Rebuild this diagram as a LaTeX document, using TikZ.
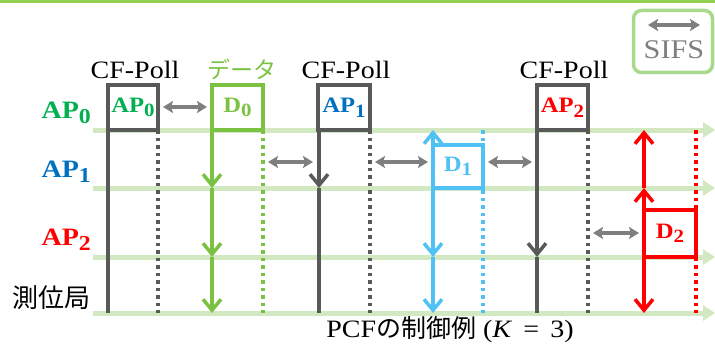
\documentclass[tikz,border=0pt]{standalone}
\usepackage{fontspec}
\setmainfont[FakeStretch=1.12]{Liberation Serif}
\newfontfamily\jp{Noto Sans CJK JP}
\usetikzlibrary{arrows.meta,calc}
\definecolor{apgreen}{HTML}{00B050}
\definecolor{apblue}{HTML}{0070C0}
\definecolor{apred}{HTML}{FF0000}
\definecolor{dgreen}{HTML}{7CC242}
\definecolor{dblue}{HTML}{4FC1F5}
\definecolor{bgray}{HTML}{595959}
\definecolor{sgray}{HTML}{7F7F7F}
\definecolor{tlgreen}{HTML}{D2E8C1}
\definecolor{topgreen}{HTML}{92D050}
\definecolor{leggreen}{HTML}{A9D98C}
\newcommand\mysub[1]{\raisebox{-0.45ex}{\scalebox{0.85}{#1}}}
\begin{document}
\begin{tikzpicture}[x=1pt,y=-1pt,
  tl/.style={line width=5pt, color=tlgreen, -{Triangle[length=12pt,width=15pt]}},
  boxnode/.style={draw, line width=4pt, minimum width=50pt, minimum height=45pt, inner sep=0pt, fill=white, font=\fontsize{22}{24}\selectfont\bfseries},
  vline/.style={line width=3.5pt},
  dline/.style={line width=3.5pt, dash pattern=on 3.5pt off 4pt},
  vtip/.style={line width=3.5pt, -{Straight Barb[length=11pt,width=18pt]}},
  sifs/.style={line width=3.5pt, color=sgray, {Stealth[length=10pt,width=12pt,inset=2pt]}-{Stealth[length=10pt,width=12pt,inset=2pt]}},
  lbl/.style={font=\fontsize{25}{28}\selectfont\bfseries, anchor=east, inner sep=0pt},
  cf/.style={font=\fontsize{25}{28}\selectfont, inner sep=0pt}
]
\useasboundingbox (0,0) rectangle (715,345);
\fill[topgreen] (0,0) rectangle (715,3.5);

% levels
\coordinate (y0) at (0,130);
\coordinate (y1) at (0,188);
\coordinate (y2) at (0,257);
\coordinate (y3) at (0,313);
\coordinate (s0) at (0,107);
\coordinate (s1) at (0,162);
\coordinate (s2) at (0,233);

% row labels
\node[lbl, text=apgreen] (lab0) at (91,113) {AP\mysub{0}};
\node[lbl, text=apblue] (lab1) at (91,172) {AP\mysub{1}};
\node[lbl, text=apred] (lab2) at (91,240) {AP\mysub{2}};
\node[anchor=east, inner sep=0pt, font=\jp\fontsize{26}{28}\selectfont] (lab3) at (91,298) {測位局};

% timelines
\coordinate (e0) at (715,130);
\coordinate (e1) at (715,188);
\coordinate (e2) at (715,257);
\coordinate (e3) at (715,313);
\draw[tl] (93,130) -- (e0);
\draw[tl] (93,188) -- (e1);
\draw[tl] (93,257) -- (e2);
\draw[tl] (93,313) -- (e3);

% box positions
\coordinate (cp0) at (133,107.5);
\coordinate (cd0) at (237.5,107.5);
\coordinate (cp1) at (344,107.5);
\coordinate (cd1) at (458,166.5);
\coordinate (cp2) at (562.5,107.5);
\coordinate (cd2) at (670,233.5);

% vertical lines (behind boxes)
\draw[vline, bgray] (108,130) -- (108,313);
\draw[dline, bgray] (158,130) -- (158,313);
\draw[dline, dgreen] (263,130) -- (263,313);
\draw[vtip, dgreen] (212,130) -- (212,188);
\draw[vtip, dgreen] (212,188) -- (212,257);
\draw[vtip, dgreen] (212,257) -- (212,313);
\draw[vtip, bgray] (319,130) -- (319,188);
\draw[vline, bgray] (319,188) -- (319,313);
\draw[dline, bgray] (370,130) -- (370,313);
\draw[dline, dblue] (483,130) -- (483,313);
\draw[vtip, dblue] (433,188) -- (433,130);
\draw[vtip, dblue] (433,188) -- (433,257);
\draw[vtip, dblue] (433,257) -- (433,313);
\draw[vline, bgray] (537,130) -- (537,230);
\draw[vtip, bgray] (537,130) -- (537,257);
\draw[vline, bgray] (537,257) -- (537,313);
\draw[dline, bgray] (588,130) -- (588,313);
\draw[dline, apred] (696,130) -- (696,313);
\draw[vtip, apred] (644,210) -- (644,188);
\draw[vtip, apred] (644,188) -- (644,130);
\draw[vtip, apred] (644,257) -- (644,313);

% boxes
\node[boxnode, draw=bgray, text=apgreen] (p0) at (cp0) {AP\mysub{0}};
\node[boxnode, draw=dgreen, text=dgreen, minimum width=51pt] (d0) at (cd0) {D\mysub{0}};
\node[boxnode, draw=bgray, text=apblue, minimum width=52pt] (p1) at (cp1) {AP\mysub{1}};
\node[boxnode, draw=dblue, text=dblue, minimum height=43pt] (d1) at (cd1) {D\mysub{1}};
\node[boxnode, draw=bgray, text=apred, minimum width=51pt] (p2) at (cp2) {AP\mysub{2}};
\node[boxnode, draw=apred, text=apred, minimum width=52pt, minimum height=47pt] (d2) at (cd2) {D\mysub{2}};

% SIFS arrows
\draw[sifs] ($(p0.east |- s0)+(3,0)$) -- ($(d0.west |- s0)+(-3,0)$);
\draw[sifs] ($(d0.east |- s1)+(3,0)$) -- ($(p1.west |- s1)+(-3,0)$);
\draw[sifs] ($(p1.east |- s1)+(3,0)$) -- ($(d1.west |- s1)+(-3,0)$);
\draw[sifs] ($(d1.east |- s1)+(3,0)$) -- ($(p2.west |- s1)+(-3,0)$);
\draw[sifs] ($(p2.east |- s2)+(3,0)$) -- ($(d2.west |- s2)+(-3,0)$);

% labels above
\node[cf] (t0) at (135,70) {CF-Poll};
\node[inner sep=0pt, text=dgreen, font=\jp\fontsize{23}{25}\selectfont] (t1) at (242,69) {データ};
\node[cf] (t2) at (346,70) {CF-Poll};
\node[cf] (t3) at (564,70) {CF-Poll};

% legend
\node[draw=leggreen, line width=3.5pt, rounded corners=8pt, minimum width=79pt, minimum height=62pt, inner sep=0pt] (leg) at (673,41.5) {};
\coordinate (la) at (648,25);
\coordinate (lb) at (700,25);
\draw[sifs] (la) -- (lb);
\node[inner sep=0pt, text=sgray, font=\fontsize{27}{29}\selectfont] (legt) at (674,50) {SIFS};

% caption
\node[inner sep=0pt, font=\fontsize{25}{28}\selectfont] (cap) at (450,330) {PCF{\jp の制御例} (\textit{K}\,\ =\ \,3)};
\end{tikzpicture}
\end{document}
